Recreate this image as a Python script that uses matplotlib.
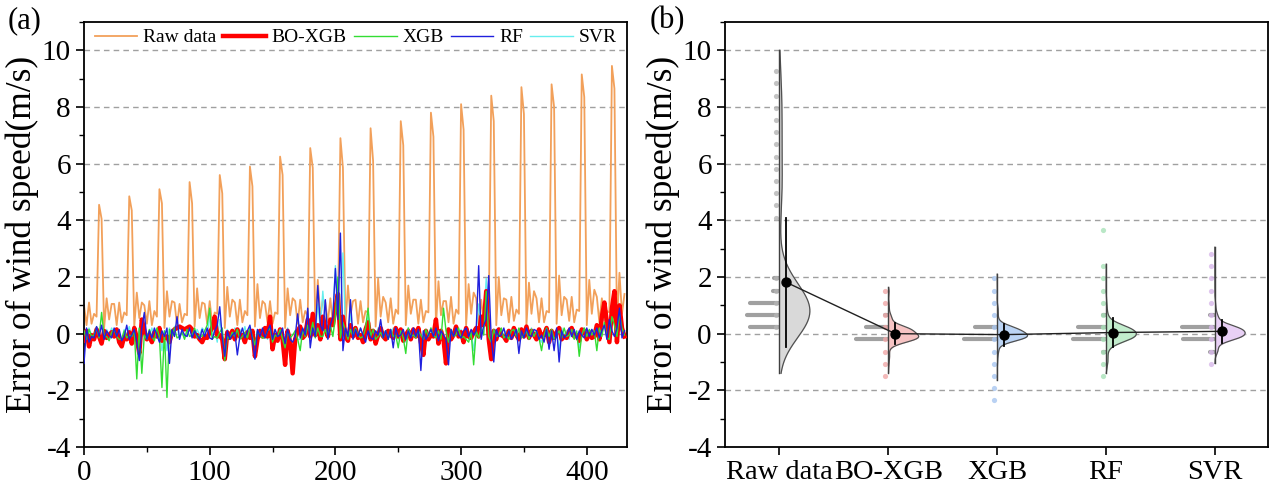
import numpy as np
import matplotlib
matplotlib.use('Agg')
import matplotlib.pyplot as plt
from matplotlib.ticker import MultipleLocator

plt.rcParams['font.family'] = ['Liberation Serif', 'DejaVu Serif']
plt.rcParams['axes.unicode_minus'] = False

# time index (every 2 steps)
x = np.arange(0, 432, 2)

raw_data = [
    [1.0, 0.3, 1.1, 0.35, 0.7, 0.6, 4.55, 4.05, 0.2, 1.25, 0.5, 1.05],
    [1.05, 0.3, 1.1, 0.4, 0.75, 0.65, 4.85, 4.35, 0.25, 1.45, 0.55, 1.1],
    [1.0, 0.35, 1.15, 0.3, 0.8, 0.6, 5.1, 4.6, 0.2, 1.5, 0.6, 1.15],
    [1.1, 0.3, 1.05, 0.4, 0.7, 0.65, 5.35, 4.6, 0.25, 1.6, 0.55, 1.1],
    [1.05, 0.35, 1.15, 0.35, 0.75, 0.7, 5.6, 4.95, 0.2, 1.65, 0.6, 1.2],
    [1.1, 0.3, 1.2, 0.4, 0.8, 0.65, 5.9, 5.2, 0.25, 1.75, 0.55, 1.15],
    [1.05, 0.4, 1.15, 0.35, 0.75, 0.7, 6.25, 5.6, 0.2, 1.6, 0.65, 1.25],
    [1.15, 0.35, 1.2, 0.4, 0.8, 0.65, 6.55, 5.85, 0.25, 1.9, 0.6, 1.2],
    [1.1, 0.4, 1.25, 0.35, 0.75, 0.7, 6.9, 5.85, 0.3, 1.7, 0.65, 1.15],
    [1.2, 0.35, 1.15, 0.4, 0.8, 0.75, 7.25, 6.1, 0.25, 1.95, 0.6, 1.3],
    [1.1, 0.4, 1.25, 0.35, 0.85, 0.7, 7.5, 6.65, 0.3, 1.7, 0.7, 1.2],
    [1.2, 0.35, 1.2, 0.4, 0.8, 0.75, 7.8, 6.95, 0.25, 1.85, 0.65, 1.15],
    [1.15, 0.4, 1.3, 0.35, 0.85, 0.7, 8.1, 7.2, 0.3, 1.75, 0.7, 1.45],
    [1.25, 0.35, 1.2, 0.4, 0.8, 0.75, 8.4, 7.5, 0.3, 2.0, 0.65, 1.25],
    [1.2, 0.4, 1.3, 0.45, 0.85, 0.7, 8.7, 7.75, 0.3, 1.8, 0.7, 1.5],
    [1.25, 0.4, 1.25, 0.4, 0.8, 0.75, 8.8, 8.0, 0.35, 2.05, 0.65, 1.3],
    [1.2, 0.45, 1.3, 0.4, 0.85, 0.8, 9.15, 8.35, 0.3, 1.9, 0.7, 1.55],
    [1.3, 0.4, 1.25, 0.45, 0.8, 0.75, 9.45, 8.65, 0.35, 2.15, 0.7, 1.4],
]

bo_xgb = [
    [-0.25, 0.1, -0.45, -0.05, -0.2, 0.15, -0.1, -0.35, 0.1, -0.15, -0.05, 0.05],
    [-0.1, 0.15, -0.3, -0.45, -0.1, -0.2, 0.05, -0.35, 0.2, -0.15, -0.7, 0.5],
    [0.1, -0.2, -0.05, -0.3, 0.05, -0.1, 0.2, -0.25, -0.15, -0.1, -0.3, 0.05],
    [0.15, 0.2, 0.25, 0.2, 0.15, 0.2, 0.25, 0.15, -0.1, -0.05, -0.2, -0.3],
    [-0.1, -0.15, 0.05, 0.2, 0.6, -0.1, -0.05, -0.2, -0.9, 0.05, -0.15, 0.1],
    [-0.2, 0.15, -0.1, -0.05, -0.3, 0.05, -0.15, 0.1, -0.8, -0.2, 0.1, -0.1],
    [0.2, -0.1, 0.6, -0.55, -0.05, -0.25, 0.15, -0.2, -1.1, 0.1, -0.3, -1.4],
    [-0.2, 0.1, 0.25, -0.15, -0.05, 0.5, -0.1, 0.7, -0.05, 0.3, -0.2, 0.6],
    [0.2, -0.1, 0.5, 0.3, 0.9, 1.4, -0.2, 0.6, -0.1, -0.25, 0.3, -0.1],
    [0.2, -0.15, -0.05, -0.3, 0.15, 0.4, -0.2, 0.1, -0.35, -0.05, 0.2, -0.1],
    [-0.2, 0.1, -0.05, -0.15, 0.2, -0.1, 0.15, -0.25, -0.05, 0.1, -0.2, 0.15],
    [-0.1, 0.2, -0.3, -0.75, 0.1, -0.2, -0.05, -0.1, 0.5, -0.35, 0.1, -0.2],
    [-1.05, 0.15, -0.2, -0.05, 0.25, -0.1, 0.05, -0.3, 0.2, -0.1, -0.15, 0.05],
    [0.2, -0.1, 0.6, 0.3, 1.5, -0.2, -0.9, 0.1, -0.2, 0.15, -0.05, -0.1],
    [-0.25, 0.1, -0.15, 0.2, -0.05, -0.2, 0.15, -0.1, 0.25, -0.15, 0.1, -0.05],
    [-0.2, 0.15, -0.1, -0.05, 0.2, -0.3, 0.1, -0.15, 0.05, 0.2, -0.2, -0.1],
    [-0.15, 0.1, 0.2, -0.1, -0.05, -0.25, 0.15, 0.1, -0.2, 0.05, -0.15, -0.1],
    [0.3, -0.2, 0.6, 1.1, 0.4, -0.3, 0.9, 1.5, -0.3, 1.0, 0.2, -0.1],
]

xgb = [
    [0.1, -0.2, 0.15, -0.1, -0.05, 0.2, -0.15, 0.75, -0.1, -0.1, -0.25, 0.05],
    [0.15, -0.1, -0.2, -0.2, 0.1, -0.15, -0.05, -0.1, 0.1, -1.6, 0.2, -1.4],
    [-0.05, -0.2, 0.15, -0.1, -0.25, 0.2, -0.1, -1.9, 0.1, -2.25, 0.15, -0.1],
    [0.2, -0.15, -0.1, 0.05, -0.2, 0.15, -0.1, -0.05, 0.2, -0.15, -0.05, -0.1],
    [0.1, 0.3, 0.9, -0.2, -0.1, -0.15, 0.05, 0.2, -0.95, -0.1, -0.2, 0.05],
    [-0.1, 0.15, -0.2, -0.1, 0.05, -0.15, 0.2, -0.1, -0.4, 0.1, -0.05, -0.15],
    [-0.15, 0.1, 0.2, -0.3, -0.05, -0.1, 0.15, -0.2, -0.5, 0.1, -0.15, -0.05],
    [0.1, -0.2, -0.6, 0.15, -0.1, 0.3, -0.05, 0.4, -0.15, 0.2, -0.1, -0.1],
    [0.15, -0.1, 0.3, -0.1, 0.6, 2.0, -0.15, 0.4, 0.1, -0.2, 0.15, -0.1],
    [0.2, -0.05, -0.15, -0.1, 0.2, 0.9, -0.1, 0.15, -0.2, -0.1, 0.05, -0.15],
    [0.1, -0.2, 0.15, -0.1, -0.05, -0.5, 0.1, -0.15, -0.7, 0.2, -0.1, -0.05],
    [-0.15, 0.1, -0.05, -0.2, 0.15, -0.1, 0.2, -0.05, -0.15, 0.1, -0.2, 0.9],
    [0.1, -0.3, 0.15, -0.1, -0.05, 0.2, -0.15, -0.1, -0.2, -0.3, 0.05, -1.1],
    [0.1, -0.15, 0.2, -0.05, 1.5, -0.1, -0.3, 0.15, -0.1, -0.05, 0.2, -0.15],
    [-0.05, -0.2, 0.1, 0.15, -0.1, 0.2, -0.15, -0.05, 0.1, -0.2, 0.15, -0.1],
    [0.1, -0.15, -0.6, -0.05, 0.2, -0.1, 0.15, -0.2, -0.05, 0.1, -0.15, 0.2],
    [-0.1, -0.05, 0.15, -0.2, 0.1, -0.8, -0.05, 0.2, -0.1, 0.15, -0.05, 0.1],
    [-0.6, 0.2, -0.1, 0.4, -0.15, -0.2, 0.6, 0.3, -0.1, 0.7, 0.2, -0.05],
]

rf = [
    [-1.05, 0.2, -0.3, -0.1, -0.15, 0.25, -0.1, 0.3, -0.2, 0.1, -0.05, -0.15],
    [0.2, -0.1, 0.15, -0.25, -0.1, 0.3, -0.2, -0.05, 0.15, -0.3, -0.95, 0.2],
    [0.75, -0.2, 0.1, -0.15, 0.2, -0.05, -0.3, 0.1, -0.1, 0.2, -1.05, 0.15],
    [-0.1, 0.6, -0.2, 0.15, -0.05, -0.1, 0.2, -0.15, 0.1, -0.05, -0.2, 0.15],
    [-0.1, 0.2, -0.15, -0.2, 0.1, 0.3, 0.95, -0.15, -0.8, 0.1, -0.2, -0.05],
    [0.05, -0.75, -0.1, 0.2, -0.15, 0.1, 0.3, -0.2, -0.9, 0.15, -0.1, 0.2],
    [-0.15, 0.1, 0.3, -0.2, 0.15, -0.1, -0.05, 0.2, -0.35, 0.15, -0.2, -0.3],
    [-0.1, 0.7, -0.15, 0.2, -0.05, 0.9, -0.5, 0.2, -0.1, 1.7, 0.3, 0.1],
    [1.2, -0.2, 0.3, 0.6, 2.3, 0.5, 3.55, -0.6, 0.2, -0.1, 1.2, -0.2],
    [0.15, -0.1, 0.2, -0.05, -0.3, 0.1, -0.15, -0.2, 0.1, -0.05, 0.5, -0.15],
    [0.1, -0.2, 0.15, -0.5, 0.2, -0.1, -0.05, 0.15, -0.2, 0.1, -0.15, 0.2],
    [-0.1, 0.15, -1.3, 0.1, -0.2, -0.05, 0.15, -0.1, 0.2, -0.25, 0.1, -0.05],
    [-0.2, -1.1, 0.15, -0.1, 0.2, -0.05, -0.15, 0.1, 0.2, -0.1, 0.15, -0.05],
    [0.1, 2.4, -0.2, 0.3, 0.5, 2.05, -0.2, -1.0, 0.15, -0.1, -0.05, 0.2],
    [-0.15, 0.1, -0.2, -0.05, 0.15, -0.7, 0.1, -0.15, 0.2, -0.05, -0.1, 0.15],
    [0.1, -0.2, -0.05, -0.3, 0.15, -0.55, 0.1, -0.6, 0.2, -1.0, 0.1, -0.15],
    [-0.05, 0.2, -0.1, 0.15, -0.2, 0.1, -0.05, -0.15, 0.2, -0.1, 0.15, -0.05],
    [0.2, -0.15, 0.1, 0.3, -0.2, 0.5, 0.1, -0.1, 0.2, 0.9, -0.15, 0.1],
]

svr = [
    [0.1, -0.15, 0.2, -0.05, -0.1, 0.25, 0.1, -0.2, -0.1, 0.15, -0.05, 0.2],
    [-0.05, 0.2, -0.1, -0.2, 0.15, -0.05, 0.25, -0.1, 0.1, -0.5, 0.2, -0.1],
    [0.15, -0.05, -0.1, 0.2, -0.1, -0.15, 0.25, -0.6, 0.1, -0.6, 0.2, -0.05],
    [0.25, 0.3, -0.2, 0.1, -0.15, 0.05, 0.2, -0.1, -0.1, 0.15, -0.05, 0.2],
    [0.1, -0.2, 0.65, -0.1, 0.15, -0.3, 0.5, -0.05, -0.6, 0.15, -0.1, -0.05],
    [0.2, -0.1, 0.15, -0.05, 0.25, -0.15, 0.1, -0.2, -0.6, 0.1, -0.05, 0.15],
    [0.1, -0.2, 0.4, -0.2, 0.15, -0.05, 0.1, -0.1, -0.6, 0.2, -0.05, -1.05],
    [0.1, -0.2, -0.2, 0.15, -0.05, 0.4, -0.1, 0.6, -0.1, 1.05, 0.2, 1.5],
    [0.4, -0.1, 0.3, 0.5, 2.4, 0.8, 0.6, 2.85, 0.2, -0.1, 0.7, -0.05],
    [0.15, -0.05, 0.2, -0.1, 0.25, 0.6, -0.05, 0.15, -0.1, 0.2, -0.1, 0.05],
    [0.1, -0.15, -0.1, 0.2, -0.05, -0.2, 0.15, -0.1, -0.3, 0.2, -0.05, 0.1],
    [-0.05, 0.2, -0.6, 0.1, -0.15, -0.05, 0.2, -0.1, 0.4, -0.1, 0.15, -0.05],
    [-0.6, 0.2, -0.1, -0.05, 0.25, -0.1, 0.15, -0.2, 0.1, -0.2, 0.05, -0.6],
    [0.15, 1.05, 0.2, 0.4, 1.95, -0.1, -0.6, 0.15, -0.05, 0.2, -0.1, -0.05],
    [0.1, -0.2, -0.1, 0.15, -0.05, -0.2, 0.2, -0.1, 0.15, -0.05, 0.2, -0.1],
    [0.05, -0.15, -0.3, 0.1, 0.2, -0.1, 0.15, -0.2, 0.1, -0.6, 0.2, -0.05],
    [0.1, -0.2, 0.15, -0.1, -0.05, -0.5, 0.15, 0.2, -0.1, -0.05, 0.15, 0.1],
    [0.25, 0.1, 0.4, 0.65, 0.2, -0.05, 0.6, 0.85, 1.05, 0.6, 0.2, 0.1],
]

names = ['Raw data', 'BO-XGB', 'XGB', 'RF', 'SVR']
# low / high end of each half violin
violin_lo = [-1.4, -1.38, -1.65, -1.4, -1.05]
violin_hi = [10.0, 1.63, 2.1, 2.45, 3.05]

series = [np.array(s).ravel() for s in (raw_data, bo_xgb, xgb, rf, svr)]

line_cols = ['#f2a05a', '#ff0000', '#33dd33', '#2020dd', '#66eeee']
line_lw = [1.3, 3.2, 1.0, 1.0, 1.0]
line_z = [1, 3, 4, 5, 2]
fill_cols = ['#d9d9d9', '#f7c4c4', '#bcd5f5', '#c2edcd', '#e8d0f5']
dot_cols = ['#b5b5b5', '#f0a8a8', '#a8c6f0', '#a8e2b8', '#d8b8ea']

fig = plt.figure(figsize=(12.69, 4.95), dpi=100)
ax1 = fig.add_axes([84/1269, 48/495, 543/1269, 425/495])
ax2 = fig.add_axes([725/1269, 48/495, 543/1269, 425/495])

# ---- panel (a)
handles = []
for i, s in enumerate(series):
    h, = ax1.plot(x, s, color=line_cols[i], lw=line_lw[i], zorder=line_z[i], label=names[i])
    handles.append(h)

ax1.set_xlim(0, 432)
ax1.set_ylim(-4, 11)
ax1.xaxis.set_major_locator(MultipleLocator(100))
ax1.xaxis.set_minor_locator(MultipleLocator(50))
ax1.set_ylabel('Error of wind speed(m/s)', fontsize=25.5, labelpad=2)
ax1.legend(handles=handles, loc='upper center', ncol=5, frameon=False, fontsize=14,
           handlelength=2.2, handletextpad=0.3, columnspacing=0.35,
           bbox_to_anchor=(0.5, 1.025))

# ---- panel (b)
edges = 0.015 + 0.43 * np.arange(-7, 24)
centers = 0.5 * (edges[:-1] + edges[1:])
means = []
for i, s in enumerate(series):
    m, sd = s.mean(), s.std()
    means.append(m)
    bw = 1.06 * sd * len(s) ** (-0.2)
    grid = np.linspace(violin_lo[i], violin_hi[i], 400)
    z = (grid[:, None] - s[None, :]) / bw
    dens = np.exp(-0.5 * z ** 2).sum(axis=1)
    w = dens / dens.max() * 0.28
    ax2.fill_betweenx(grid, i, i + w, color=fill_cols[i], lw=0, zorder=2)
    ax2.plot(i + w, grid, color='#505050', lw=0.9, zorder=3)
    ax2.plot([i, i], [violin_lo[i], violin_hi[i]], color='#404040', lw=1.0, zorder=3)

    counts, _ = np.histogram(s, bins=edges)
    nmax = counts.max()
    for c, n in zip(centers, counts):
        if n < 0.08 * nmax:
            continue
        ax2.plot([i - 0.3 * n / nmax, i - 0.01], [c, c], color='#a0a0a0', lw=3.0,
                 solid_capstyle='round', zorder=1)
    nz = counts > 0
    ax2.scatter(np.full(nz.sum(), i - 0.03), centers[nz], s=14, color=dot_cols[i],
                alpha=0.8, lw=0, zorder=2.5)

    ax2.plot([i + 0.065] * 2, [m - sd, m + sd], color='k', lw=1.3, zorder=4)

ax2.plot(np.arange(5) + 0.065, means, color='#202020', lw=1.0, zorder=4)
ax2.scatter(np.arange(5) + 0.065, means, s=42, color='k', zorder=6)

ax2.set_xlim(-0.5, 4.49)
ax2.set_ylim(-4, 11)
ax2.set_xticks(range(5))
ax2.set_xticklabels(names)
ax2.set_ylabel('Error of wind speed(m/s)', fontsize=25.5, labelpad=2)

for ax in (ax1, ax2):
    ax.yaxis.set_major_locator(MultipleLocator(2))
    ax.yaxis.set_minor_locator(MultipleLocator(1))
    for yv in range(-2, 11, 2):
        ax.axhline(yv, color='#a0a0a0', lw=1.0, ls=(0, (4, 3)), zorder=0)
    ax.tick_params(axis='both', which='major', direction='out', length=6, width=1.2,
                   labelsize=21)
    ax.tick_params(axis='both', which='minor', direction='out', length=3.5, width=1.0)
    for sp in ax.spines.values():
        sp.set_linewidth(1.3)
ax2.tick_params(axis='x', which='minor', bottom=False)
ax2.tick_params(axis='x', labelsize=20.5)

fig.text(8/1269, 1 - 6/495, '(a)', fontsize=22, va='top')
fig.text(650/1269, 1 - 6/495, '(b)', fontsize=22, va='top')

fig.savefig('out.png', dpi=100)
